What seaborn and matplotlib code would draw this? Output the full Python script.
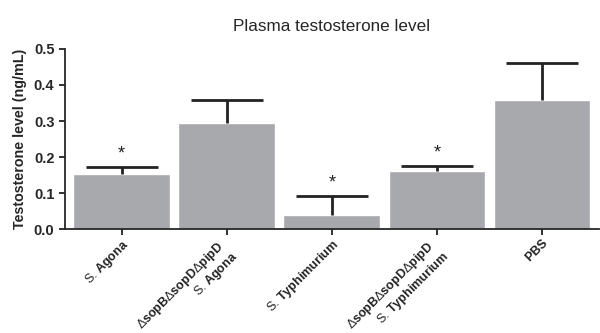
import numpy as np
import pandas as pd
import seaborn as sns
from matplotlib import pyplot as plt

## Les données
groupes = [
    r"S. $\mathbf{Agona}$",
    "$\\Delta\\mathbf{sopB}\\Delta\\mathbf{sopD}\\Delta\\mathbf{pipD}$\nS. $\\mathbf{Agona}$",
    r"S. $\mathbf{Typhimurium}$",
    "$\\Delta\\mathbf{sopB}\\Delta\\mathbf{sopD}\\Delta\\mathbf{pipD}$\nS. $\\mathbf{Typhimurium}$",
    r"$\mathbf{PBS}$",
]
moyennes = [0.153, 0.295, 0.038, 0.161, 0.357]
erreurs = [0.020, 0.062, 0.054, 0.014, 0.103]
etoiles = [True, False, True, True, False]

df = pd.DataFrame({"groupe": groupes, "niveau": moyennes})

sns.set_style("ticks")
plt.rcParams['font.family'] = ['Liberation Sans', 'DejaVu Sans']
plt.rcParams['mathtext.fontset'] = 'custom'
plt.rcParams['mathtext.rm'] = 'Liberation Sans'
plt.rcParams['mathtext.bf'] = 'Liberation Sans:bold'
plt.rcParams['mathtext.it'] = 'Liberation Sans:italic'

fig = plt.figure(figsize=(6, 3.33), dpi=100)
ax = fig.add_axes([0.108, 0.312, 0.89, 0.541])

sns.barplot(data=df, x="groupe", y="niveau", color="#a8a9ad", width=0.92,
            errorbar=None, saturation=1, ax=ax)

x = np.arange(len(groupes))
ligne, caps, barres = ax.errorbar(x, moyennes, yerr=[np.zeros(len(erreurs)), erreurs],
                                  fmt="none", ecolor="#222222", elinewidth=2,
                                  capsize=26, capthick=2)
caps[0].set_visible(False)  # pas de cap en bas

# astérisques de significativité
for i in range(len(groupes)):
    if etoiles[i]:
        ax.text(x[i], moyennes[i] + erreurs[i] + 0.012, "*", ha="center",
                va="bottom", fontsize=13, color="#222222")

ax.set_xlim(-0.54, 4.54)
ax.set_ylim(0, 0.5)
ax.set_yticks([0.0, 0.1, 0.2, 0.3, 0.4, 0.5])
ax.set_yticklabels(["0.0", "0.1", "0.2", "0.3", "0.4", "0.5"], fontweight="bold", fontsize=10.5)
ax.set_xlabel("")
ax.set_ylabel("Testosterone level (ng/mL)", fontweight="bold", fontsize=10.3, labelpad=5)
ax.set_xticks(x)
ax.set_xticklabels([""] * len(groupes))

# étiquettes des groupes : une ligne par texte (décalages en points)
for i, g in enumerate(groupes):
    lignes = g.split("\n")
    if len(lignes) == 1:
        decalages = [(0, -5.5)]
    else:
        decalages = [(-7.5, -7), (3, -14.5)]
    for txt, (dx, dy) in zip(lignes, decalages):
        ax.annotate(txt, xy=(x[i], 0), xycoords=ax.get_xaxis_transform(),
                    xytext=(dx, dy), textcoords="offset points", rotation=45,
                    rotation_mode="anchor", ha="right", va="top", fontsize=9,
                    color="#222222")

ax.set_title("Plasma testosterone level", fontsize=12.3, pad=13)

for s in ["top", "right"]:
    ax.spines[s].set_visible(False)
ax.spines["left"].set_linewidth(1.3)
ax.spines["bottom"].set_linewidth(1.3)
ax.tick_params(axis="both", width=1.3, length=4, color="#222222")

fig.savefig("out.png", dpi=100)
